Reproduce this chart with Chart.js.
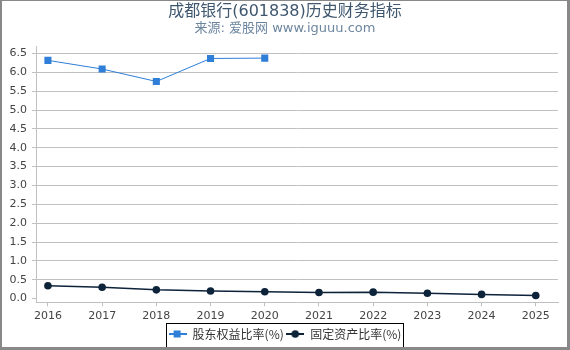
<!DOCTYPE html>
<html>
<head>
<meta charset="utf-8">
<script src="https://cdn.jsdelivr.net/npm/chart.js@4"></script>
<style>
  html, body { margin: 0; padding: 0; background: #fff; }
  #wrap { position: relative; width: 570px; height: 350px; }
  #frame {
    position: absolute; left: 0; top: 0; width: 570px; height: 350px;
    box-sizing: border-box; pointer-events: none;
    border-top: 1px solid #888; border-left: 2px solid #888;
    border-right: 3px solid #888; border-bottom: 3px solid #888;
  }
</style>
</head>
<body>
<div id="wrap">
  <canvas id="chart" width="570" height="350"></canvas>
  <div id="frame"></div>
</div>
<script>
// 数据
const years = [2016, 2017, 2018, 2019, 2020, 2021, 2022, 2023, 2024, 2025];
const equityRatio = [6.32, 6.09, 5.76, 6.37, 6.38, null, null, null, null, null];
const fixedAssetRatio = [0.34, 0.30, 0.23, 0.20, 0.18, 0.16, 0.17, 0.14, 0.11, 0.08];
const yTicks = [0, 0.5, 1, 1.5, 2, 2.5, 3, 3.5, 4, 4.5, 5, 5.5, 6, 6.5];

const blue = "#2f7ed8";
const navy = "#0d233a";

function toPoints(values) {
  return years
    .map((y, i) => ({ x: y, y: values[i] }))
    .filter((p) => p.y !== null);
}

// 图例里的线+标记
function legendIcon(color, shape) {
  const c = document.createElement("canvas");
  c.width = 18;
  c.height = 10;
  const g = c.getContext("2d");
  g.strokeStyle = color;
  g.lineWidth = 2;
  g.beginPath();
  g.moveTo(0, 5);
  g.lineTo(18, 5);
  g.stroke();
  g.fillStyle = color;
  if (shape === "rect") {
    g.fillRect(5, 1.5, 7, 7);
  } else {
    g.beginPath();
    g.arc(9, 5, 3.8, 0, Math.PI * 2);
    g.fill();
  }
  return c;
}

// 图例外框
const legendBorder = {
  id: "legendBorder",
  afterDraw(chart) {
    const boxes = chart.legend.legendHitBoxes;
    if (!boxes || !boxes.length) return;
    const ctx = chart.ctx;
    let x1 = Infinity, x2 = -Infinity, cy = 0;
    boxes.forEach((b) => {
      x1 = Math.min(x1, b.left);
      x2 = Math.max(x2, b.left + b.width);
      cy = b.top + b.height / 2;
    });
    ctx.save();
    ctx.strokeStyle = "#000";
    ctx.lineWidth = 1;
    ctx.strokeRect(Math.round(x1) - 2.5, Math.round(cy) - 10.5, Math.round(x2 - x1) + 4, 26);
    ctx.restore();
  },
};

new Chart(document.getElementById("chart"), {
  type: "line",
  data: {
    datasets: [
      {
        label: "股东权益比率(%)",
        data: toPoints(equityRatio),
        borderColor: blue,
        backgroundColor: blue,
        borderWidth: 1,
        pointStyle: "rect",
        pointRadius: 5,
        pointHoverRadius: 5,
        pointBorderWidth: 0,
      },
      {
        label: "固定资产比率(%)",
        data: toPoints(fixedAssetRatio),
        borderColor: navy,
        backgroundColor: navy,
        borderWidth: 1.5,
        pointStyle: "circle",
        pointRadius: 3.8,
        pointHoverRadius: 3.8,
        pointBorderWidth: 0,
      },
    ],
  },
  options: {
    responsive: false,
    animation: false,
    layout: { padding: 0 },
    plugins: {
      title: {
        display: true,
        text: "成都银行(601838)历史财务指标",
        color: "#3e576f",
        font: { family: "'DejaVu Sans', 'Noto Sans CJK SC'", size: 16, weight: "normal" },
        padding: { top: 2, bottom: 0 },
      },
      subtitle: {
        display: true,
        text: "来源: 爱股网 www.iguuu.com",
        color: "#6d869f",
        font: { family: "'DejaVu Sans', 'Noto Sans CJK SC'", size: 13, weight: "normal" },
        padding: { top: 0, bottom: 10 },
      },
      legend: {
        position: "bottom",
        labels: {
          usePointStyle: true,
          pointStyleWidth: 18,
          boxHeight: 10,
          padding: 2.5,
          color: "#333",
          font: { family: "'Noto Sans CJK SC', 'DejaVu Sans'", size: 12 },
          generateLabels(chart) {
            return chart.data.datasets.map((ds, i) => ({
              text: ds.label,
              pointStyle: legendIcon(ds.borderColor, ds.pointStyle),
              fillStyle: ds.borderColor,
              strokeStyle: ds.borderColor,
              lineWidth: 0,
              datasetIndex: i,
              fontColor: "#333",
            }));
          },
        },
      },
      tooltip: { enabled: false },
    },
    scales: {
      x: {
        type: "linear",
        min: 2015.78,
        max: 2025.41,
        afterBuildTicks(scale) {
          scale.ticks = years.map((v) => ({ value: v }));
        },
        ticks: {
          color: "#444",
          font: { family: "'DejaVu Sans'", size: 11 },
          padding: 3,
          maxRotation: 0,
          callback: (v) => String(v),
        },
        grid: {
          drawOnChartArea: false,
          drawTicks: true,
          tickLength: 4,
          tickColor: "#c0c0c0",
        },
        border: { color: "#c0c0c0", width: 1 },
      },
      y: {
        min: -0.1,
        max: 6.68,
        afterBuildTicks(scale) {
          scale.ticks = yTicks.map((v) => ({ value: v }));
        },
        afterFit(scale) {
          scale.width = 36;
        },
        ticks: {
          color: "#444",
          font: { family: "'DejaVu Sans'", size: 11 },
          padding: 5,
          callback: (v) => v.toFixed(1),
        },
        grid: {
          color: (ctx) => (ctx.tick && ctx.tick.value === 0 ? "rgba(0,0,0,0)" : "#c0c0c0"),
          tickColor: "#c0c0c0",
          tickLength: 4,
        },
        border: { color: "#c0c0c0", width: 1 },
      },
      // 右侧留白
      yRight: {
        position: "right",
        display: true,
        afterFit(scale) {
          scale.width = 12;
        },
        ticks: { display: false },
        grid: { display: false, drawTicks: false },
        border: { display: false },
      },
    },
  },
  plugins: [legendBorder],
});
</script>
</body>
</html>
